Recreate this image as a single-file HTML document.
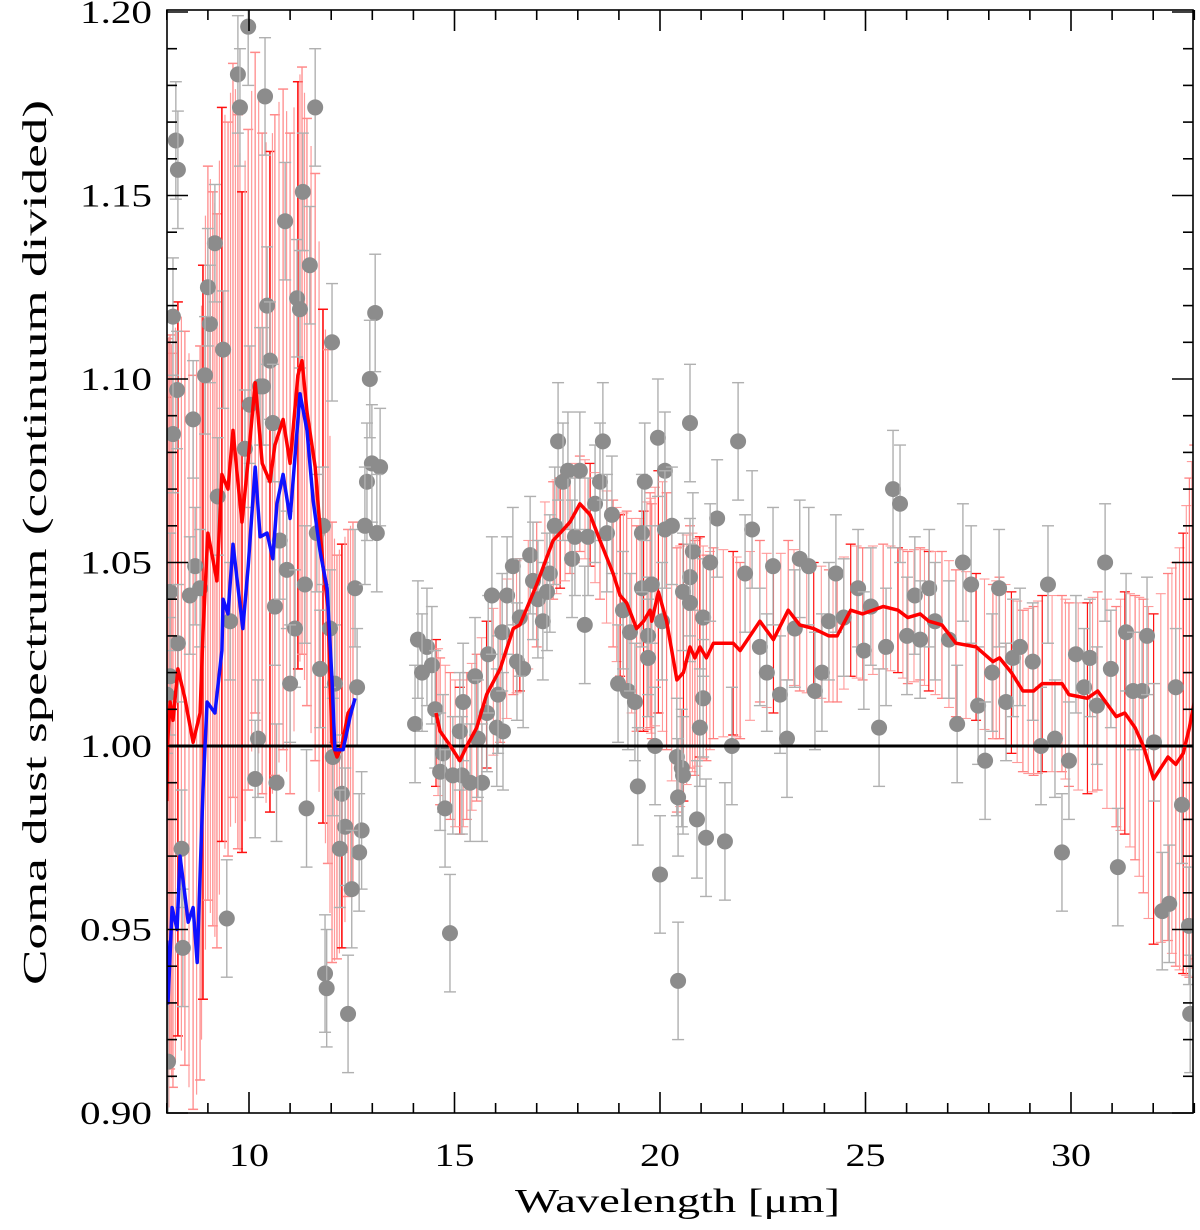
<!DOCTYPE html>
<html><head><meta charset="utf-8">
<style>
html,body{margin:0;padding:0;background:#fff;}
svg{display:block;font-family:"Liberation Serif",serif;}
</style></head>
<body>
<svg id="chart" width="1200" height="1230" viewBox="0 0 1200 1230" xmlns="http://www.w3.org/2000/svg">
<defs><clipPath id="plotclip"><rect x="167" y="10" width="1026" height="1103"/></clipPath></defs>
<rect x="0" y="0" width="1200" height="1230" fill="#fff"/>
<g id="plot" clip-path="url(#plotclip)"></g>
<g id="axes"></g>
</svg>
<script>
// ---- data ----
const grayW = [9.98,9.73,9.78,10.39,11.61,8.22,8.27,11.31,10.88,9.17,11.48,9.00,11.17,11.24,10.44,9.05,8.15,9.37,10.51,12.02,13.07,12.94,8.93,10.34,8.25,8.64,8.15,9.24,8.69,8.56,8.81,8.08,8.27,8.08,8.00,9.54,10.63,10.75,10.92,11.36,11.12,11.73,11.00,12.09,11.97,11.65,11.80,10.58,10.27,9.90,10.02,12.63,12.58,10.22,12.87,12.99,13.19,12.82,13.11,8.36,8.39,8.03,9.46,10.15,10.67,11.40,11.85,11.89,12.41,12.26,12.34,12.21,12.74,12.68,12.50,12.04,
14.04,14.11,14.33,14.21,14.45,14.53,14.72,14.65,14.77,14.96,15.18,15.38,15.67,15.13,15.21,15.50,15.57,15.79,15.82,16.03,16.18,16.06,16.16,15.91,16.28,16.42,16.52,16.67,16.59,16.84,16.91,17.03,17.15,17.25,17.32,17.44,17.52,17.64,17.76,17.86,17.93,18.05,18.17,18.25,18.42,18.54,18.61,18.71,18.83,18.98,19.22,19.39,19.10,19.27,19.56,19.56,19.63,19.71,19.71,19.80,19.88,19.95,20.12,20.05,20.12,20.29,20.41,20.53,20.56,20.44,20.73,20.80,20.73,20.56,20.73,21.05,21.05,20.97,20.90,21.39,21.22,21.90,22.24,22.07,22.43,22.60,22.75,22.92,21.75,23.09,23.40,23.28,19.46,14.89,20.44,20.00,21.12,21.58,
23.62,23.77,23.94,24.11,24.28,24.47,24.82,24.96,25.13,25.33,25.50,25.67,25.84,26.01,26.20,26.33,26.55,26.69,27.03,27.23,27.37,27.57,27.74,27.91,28.08,28.25,28.42,28.59,28.76,29.07,29.27,29.44,29.61,29.95,29.78,30.12,30.32,30.46,30.63,30.83,30.97,31.14,31.34,31.51,31.73,31.85,32.02,32.22,32.39,32.55,32.70,32.87,32.90];
const grayV = [1.196,1.183,1.174,1.177,1.174,1.165,1.157,1.151,1.143,1.137,1.131,1.125,1.122,1.119,1.120,1.115,1.117,1.108,1.105,1.110,1.118,1.100,1.101,1.098,1.097,1.089,1.085,1.068,1.049,1.041,1.043,1.042,1.028,1.019,1.014,1.034,1.038,1.056,1.048,1.044,1.032,1.021,1.017,1.017,1.032,1.058,1.060,1.088,1.098,1.081,1.093,1.016,1.043,1.002,1.072,1.077,1.076,1.060,1.058,0.972,0.945,0.914,0.953,0.991,0.990,0.983,0.938,0.934,0.927,0.987,0.978,0.972,0.977,0.971,0.961,0.997,
1.006,1.029,1.027,1.020,1.022,1.010,0.998,0.993,0.983,0.992,0.992,0.990,0.990,1.004,1.012,1.019,1.002,1.009,1.025,1.005,1.004,1.014,1.031,1.041,1.041,1.049,1.023,1.021,1.035,1.052,1.045,1.040,1.034,1.042,1.047,1.060,1.083,1.072,1.075,1.051,1.057,1.075,1.033,1.057,1.066,1.072,1.083,1.058,1.063,1.017,1.015,1.012,1.037,1.031,1.043,1.058,1.072,1.030,1.024,1.044,1.000,1.084,1.075,1.034,1.059,1.060,0.997,0.994,0.992,0.986,1.088,1.053,1.046,1.042,1.039,1.035,1.013,1.005,0.980,1.062,1.050,1.083,1.059,1.047,1.027,1.020,1.049,1.014,1.000,1.002,1.051,1.032,0.989,0.949,0.936,0.965,0.975,0.974,
1.049,1.015,1.020,1.034,1.047,1.035,1.043,1.026,1.038,1.005,1.027,1.070,1.066,1.030,1.041,1.029,1.043,1.034,1.029,1.006,1.050,1.044,1.011,0.996,1.020,1.043,1.012,1.024,1.027,1.023,1.000,1.044,1.002,0.996,0.971,1.025,1.016,1.024,1.011,1.050,1.021,0.967,1.031,1.015,1.015,1.030,1.001,0.955,0.957,1.016,0.984,0.951,0.927];
const grayErr = 0.016;

const red1W = [8.00,8.02,8.08,8.15,8.27,8.44,8.64,8.81,8.88,9.00,9.12,9.22,9.34,9.49,9.61,9.73,9.83,9.98,10.15,10.32,10.51,10.63,10.83,11.00,11.19,11.29,11.41,11.61,11.80,11.92,12.02,12.14,12.26,12.41,12.53];
const red1V = [0.985,1.001,1.012,1.007,1.021,1.013,1.001,1.009,1.031,1.058,1.051,1.045,1.074,1.070,1.086,1.072,1.061,1.078,1.099,1.077,1.072,1.082,1.089,1.077,1.101,1.105,1.091,1.076,1.049,1.038,1.001,0.997,1.000,1.009,1.011];
const red1Err = [0.11,0.11,0.1,0.1,0.1,0.1,0.1,0.1,0.1,0.1,0.1,0.1,0.1,0.1,0.1,0.1,0.09,0.09,0.09,0.09,0.09,0.09,0.09,0.09,0.08,0.08,0.08,0.08,0.07,0.07,0.06,0.055,0.055,0.05,0.05];

const blueW = [8.00,8.03,8.13,8.25,8.32,8.39,8.52,8.64,8.74,8.81,8.88,8.98,9.17,9.34,9.37,9.49,9.61,9.85,9.98,10.15,10.27,10.44,10.58,10.68,10.83,11.00,11.24,11.41,11.56,11.73,11.90,12.02,12.09,12.29,12.46,12.58];
const blueV = [0.947,0.930,0.956,0.950,0.970,0.964,0.952,0.956,0.941,0.965,0.988,1.012,1.009,1.026,1.040,1.036,1.055,1.032,1.049,1.076,1.057,1.058,1.051,1.066,1.074,1.062,1.096,1.086,1.067,1.053,1.043,1.018,0.999,0.999,1.008,1.013];

const red2W = [14.55,14.65,14.9,15.13,15.3,15.54,15.78,16.11,16.43,16.59,17.0,17.4,17.57,17.81,18.05,18.3,18.54,18.86,19.03,19.19,19.43,19.6,19.76,19.8,19.96,20.16,20.41,20.57,20.73,20.85,20.97,21.13,21.3,21.78,21.95,22.43,22.76,23.12,23.4,23.74,24.11,24.31,24.64,24.93,25.43,25.79,26.03,26.33,26.54,26.86,27.2,27.69,28.1,28.26,28.55,28.83,29.09,29.3,29.78,29.95,30.4,30.65,31.1,31.31,31.56,31.76,32.01,32.36,32.55,32.73,32.88,33.0];
const red2V = [1.009,1.004,1.000,0.996,1.000,1.005,1.014,1.021,1.032,1.033,1.044,1.056,1.058,1.061,1.066,1.063,1.056,1.047,1.041,1.039,1.032,1.034,1.037,1.034,1.042,1.034,1.018,1.020,1.027,1.024,1.027,1.024,1.028,1.028,1.026,1.034,1.029,1.037,1.033,1.032,1.030,1.030,1.037,1.036,1.038,1.037,1.035,1.036,1.034,1.033,1.028,1.027,1.023,1.024,1.020,1.015,1.015,1.017,1.017,1.014,1.013,1.015,1.008,1.009,1.005,1.000,0.991,0.997,0.995,0.998,1.005,1.012];
const red2Err = [.02,.02,.02,.02,.02,.02,.02,.02,.018,.018,.017,.016,.015,.014,.013,.014,.016,.02,.022,.025,.028,.03,.032,.032,.033,.035,.036,.035,.033,.032,.03,.028,.026,.025,.024,.022,.02,.019,.018,.018,.018,.018,.018,.018,.017,.017,.018,.018,.019,.02,.02,.02,.021,.022,.022,.022,.023,.024,.024,.025,.026,.027,.03,.033,.036,.04,.045,.05,.055,.06,.068,.07];

const xTickLabels = ["10","15","20","25","30"];
const xTickValues = [10,15,20,25,30];
const yTickLabels = ["0.90","0.95","1.00","1.05","1.10","1.15","1.20"];
const yTickValues = [0.90,0.95,1.00,1.05,1.10,1.15,1.20];

// ---- scales ----
const X0=166.8, XS=41.1, W0=8;
const Y0=746, YS=3670;
const xs = w => X0 + (w - W0) * XS;
const ys = v => Y0 - (v - 1) * YS;
const NS="http://www.w3.org/2000/svg";
const plot=document.getElementById('plot'), axes=document.getElementById('axes');
function mk(tag, attrs, parent){const e=document.createElementNS(NS,tag);for(const k in attrs)e.setAttribute(k,attrs[k]);parent.appendChild(e);return e;}

// red errorbars (segment 1)
red1W.forEach((w,i)=>{
  const g=mk('g',{},plot);
  
  
  const x=xs(w), dark=(i%4===0);
  const col=dark?'#ff1010':'#ff8a8a';
  const top=ys(red1V[i]+red1Err[i]), bot=ys(red1V[i]-red1Err[i]);
  mk('line',{x1:x,x2:x,y1:top,y2:bot,stroke:col,'stroke-width':dark?1.6:1.3},g);
  mk('line',{x1:x-5,x2:x+5,y1:top,y2:top,stroke:col,'stroke-width':1.5},g);
  mk('line',{x1:x-5,x2:x+5,y1:bot,y2:bot,stroke:col,'stroke-width':1.5},g);
  if(i<red1W.length-1){
    const xm=(x+xs(red1W[i+1]))/2, vm=(red1V[i]+red1V[i+1])/2, em=(red1Err[i]+red1Err[i+1])/2;
    mk('line',{x1:xm,x2:xm,y1:ys(vm+em),y2:ys(vm-em),stroke:'#ff9a9a','stroke-width':1.2},g);
  }
});
// red errorbars (segment 2)
red2W.forEach((w,i)=>{
  const g=mk('g',{},plot);
  
  
  const x=xs(w), dark=(i%3===0);
  const col=dark?'#ff1010':'#ff8080';
  const top=ys(red2V[i]+red2Err[i]), bot=ys(red2V[i]-red2Err[i]);
  mk('line',{x1:x,x2:x,y1:top,y2:bot,stroke:col,'stroke-width':1.2},g);
  mk('line',{x1:x-5,x2:x+5,y1:top,y2:top,stroke:col,'stroke-width':1.3},g);
  mk('line',{x1:x-5,x2:x+5,y1:bot,y2:bot,stroke:col,'stroke-width':1.3},g);
  if(i<red2W.length-1){
    const xm=(x+xs(red2W[i+1]))/2, vm=(red2V[i]+red2V[i+1])/2, em=(red2Err[i]+red2Err[i+1])/2;
    mk('line',{x1:xm,x2:xm,y1:ys(vm+em),y2:ys(vm-em),stroke:'#ff9a9a','stroke-width':1.1},g);
    mk('line',{x1:xm-5,x2:xm+5,y1:ys(vm+em),y2:ys(vm+em),stroke:'#ff9a9a','stroke-width':1.1},g);
    mk('line',{x1:xm-5,x2:xm+5,y1:ys(vm-em),y2:ys(vm-em),stroke:'#ff9a9a','stroke-width':1.1},g);
  }
});
// gray points
grayW.forEach((w,i)=>{
  const g=mk('g',{},plot);
  
  
  const x=xs(w), y=ys(grayV[i]), t=ys(grayV[i]+grayErr), b=ys(grayV[i]-grayErr);
  mk('line',{x1:x,x2:x,y1:t,y2:b,stroke:'#b0b0b0','stroke-width':1.4},g);
  mk('line',{x1:x-6,x2:x+6,y1:t,y2:t,stroke:'#b0b0b0','stroke-width':1.4},g);
  mk('line',{x1:x-6,x2:x+6,y1:b,y2:b,stroke:'#b0b0b0','stroke-width':1.4},g);
  mk('circle',{cx:x,cy:y,r:8,fill:'#8c8c8c'},g);
});
// zero line
const zl=mk('line',{x1:167,x2:1193,y1:ys(1),y2:ys(1),stroke:'#000','stroke-width':3},plot);


// lines
function poly(W,V,col,name){
  const p=mk('polyline',{points:W.map((w,i)=>xs(w).toFixed(1)+','+ys(V[i]).toFixed(1)).join(' '),fill:'none',stroke:col,'stroke-width':3.5,'stroke-linejoin':'round'},plot);
  
  
}
poly(red1W,red1V,'#ff0000','red-model-line-short');
poly(blueW,blueV,'#1010ff','blue-model-line');
poly(red2W,red2V,'#ff0000','red-model-line-long');

// axes frame
const fr=mk('rect',{x:167,y:10,width:1026,height:1103,fill:'none',stroke:'#000','stroke-width':1.6},axes);


// x ticks
for(let w=8; w<=33; w++){
  const x=xs(w), major=(w%5===0), L=major?21:10;
  const t1=mk('line',{x1:x,x2:x,y1:1113,y2:1113-L,stroke:'#000','stroke-width':1.6},axes);
  
  
  const t2=mk('line',{x1:x,x2:x,y1:10,y2:10+L,stroke:'#000','stroke-width':1.6},axes);
  
  
}
xTickValues.forEach((v,i)=>{
  const t=mk('text',{x:xs(v),y:1166,'text-anchor':'middle','font-size':33,fill:'#000',textLength:40,lengthAdjust:'spacingAndGlyphs'},axes);
  t.textContent=xTickLabels[i];
  
  
});
// y ticks
for(let k=90;k<=120;k++){
  const v=k/100, y=ys(v), major=(k%5===0), L=major?21:10;
  const t1=mk('line',{x1:167,x2:167+L,y1:y,y2:y,stroke:'#000','stroke-width':1.6},axes);
  
  
  const t2=mk('line',{x1:1193,x2:1193-L,y1:y,y2:y,stroke:'#000','stroke-width':1.6},axes);
  
  
}
yTickValues.forEach((v,i)=>{
  const t=mk('text',{x:80,y:ys(v)+11,'font-size':33,fill:'#000',textLength:72,lengthAdjust:'spacingAndGlyphs'},axes);
  t.textContent=yTickLabels[i];
  
  
});
// titles
const xt=mk('text',{x:515,y:1212,'font-size':34,fill:'#000',textLength:325,lengthAdjust:'spacingAndGlyphs'},axes);
xt.textContent='Wavelength [\u03bcm]';


const yt=mk('text',{x:0,y:0,'font-size':34,fill:'#000',textLength:885,lengthAdjust:'spacingAndGlyphs',transform:'translate(46,985) rotate(-90)'},axes);
yt.textContent='Coma dust spectrum (continuum divided)';


</script>
</body></html>
